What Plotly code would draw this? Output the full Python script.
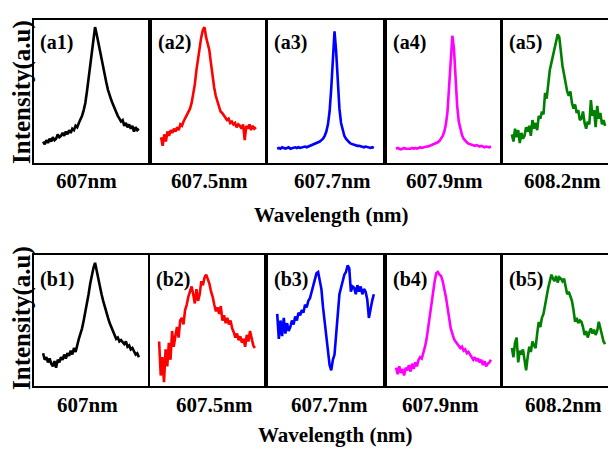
import plotly.graph_objects as go

# ---------------- data (relative intensity) ----------------
wavelength_labels = ["607nm", "607.5nm", "607.7nm", "607.9nm", "608.2nm"]
row_a_names = ["(a1)", "(a2)", "(a3)", "(a4)", "(a5)"]
row_b_names = ["(b1)", "(b2)", "(b3)", "(b4)", "(b5)"]
colors = ["#000000", "#ff0000", "#0000ff", "#ff00ff", "#008000"]

a1 = [15,13,16,14,17,15,18,16,17,20, 18,19,21,19,22,20,23,21,24,23,
      26,25,28,30,33,37,42,50,58,68, 77,86,95,90,84,79,72,66,61,56,
      51,47,44,41,38,35,33,31,29,30, 26,28,25,27,24,26,22,25,23,24]
a2 = [18,12,20,15,22,19,23,21,24,22, 25,23,27,26,29,
      31,33,35,38,42,
      48,55,65,73,81,88,
      93,95,88,84,79,70,60,53,47,43,39,36,35,33,
      32,30,31,28,29,27,28,25,27,26, 24,27,16,26,24,27,23,26,24,25]
a3 = [10,10.5,10,11,10.5,10,10.5,11,10,10.5, 10.5,11,10.5,11,10.5,11,11,11.5,11,11.5,
      12,12,12.5,13,13.5,14,
      15,16,17,19,22,27,36,52,75,92,78,55,38,28,23,19,17,15.5,14.5,13.5,
      13,12.5,12.5,12,12,11.5,11.5,11,11.5,11,11,10.5,11,10.5]
a4 = [10,10.5,10,9.5,10,10.5,10,10,9.5,10, 10.5,10,10.5,10,10.5,11,10.5,11,11,11.5,
      11.5,12,12,12.5,13,13.5,
      14.5,15.5,17,19,22,27,36,52,74,89,80,58,40,29,23,19.5,17,15.5,14.5,13.5,
      13,13,12.5,12,12.5,12,11.5,12,11.5,11,11.5,11,11,11.5]
a5 = [20,15,24,18,23,14,21,17,19,25, 22,26,19,30,24,28,23,33,31,36,
      34,49,45,58,65,70,75,78,85,90, 88,75,68,62,55,50,47,50,42,38,
      41,35,37,30,31,36,28,24,29,27, 44,33,37,25,40,31,35,27,30,26]

b1 = [25,20,22,18,21,17,15,19,14,20, 18,22,20,24,21,25,23,27,24,29,
      26,32,36,40,44,50,56,62,70,78, 85,90,94,88,80,76,70,65,60,56,
      52,48,45,42,39,36,37,34,35,33, 32,34,30,31,28,29,26,24,25,22]
b2 = [34,8,22,3,28,15,33,20,42,30, 38,45,37,50,52,47,58,62,68,72,
      76,70,63,74,65,70,80,77,83,85, 82,78,72,68,62,57,60,55,61,50,
      54,48,52,47,50,44,41,37,40,35, 38,33,36,30,39,34,42,36,31,29]
b3 = [55,36,50,38,52,40,48,42,45,50, 47,53,50,56,54,58,56,62,60,65,
      67,72,76,80, 86,87,80,74,60,49,
      38,27,16,12,20,24,42,55,70,75, 80,85,87,92,90,72,76,75,70,77,
      72,76,70,74,72,66,52,60,65,70]
b4 = [14,9,15,10,13,8,14,12,16,11, 17,13,18,15,20,22,21,25,30,36,
      45,55,63,72,80,86,87,85,84,80, 75,68,60,52,44,40,36,34,32,31,
      29,30,27,28,25,26,24,23,20,22, 19,21,18,20,16,19,15,17,18,20]
b5 = [29,22,33,37,18,27,24,28,20,12, 22,30,26,34,31,29,40,49,45,52,
      55,62,70,75,80,85,82,80,84,79, 83,82,80,82,76,70,72,68,65,58,
      49,52,48,50,49,45,39,42,37,41, 44,40,43,39,42,49,44,38,34,32]

row_a = [a1, a2, a3, a4, a5]
row_b = [b1, b2, b3, b4, b5]

# ---------------- layout helpers ----------------
OFF = 8                      # page body margin
W, H = 616 - OFF, 452 - OFF  # figure size so the page fits the window
FONT = "Liberation Serif, Times New Roman, serif"

def px_x(p):
    return (p - OFF) / W

def px_y(p):
    return 1 - (p - OFF) / H

row_a_boxes = [(34, 148), (152, 265), (268, 383), (387, 500), (503, 614)]
row_b_boxes = [(34, 148), (150, 264), (268, 383), (387, 500), (503, 614)]
row_a_y = (20, 163)
row_b_y = (255, 386)

row_a_label_x = [86, 209, 332, 444, 562]
row_b_label_x = [87, 214, 329, 440, 563]

fig = go.Figure()
layout = {}
annotations = []

panels = []
for i in range(5):
    panels.append((row_a[i], colors[i], row_a_boxes[i], row_a_y, row_a_names[i]))
for i in range(5):
    panels.append((row_b[i], colors[i], row_b_boxes[i], row_b_y, row_b_names[i]))

for k, (vals, color, (x0, x1), (y0, y1), name) in enumerate(panels):
    idx = k + 1
    xa = "x" if idx == 1 else f"x{idx}"
    ya = "y" if idx == 1 else f"y{idx}"
    n = len(vals)
    fig.add_trace(go.Scatter(
        x=list(range(n)), y=vals, mode="lines",
        line=dict(color=color, width=2.6),
        xaxis=xa, yaxis=ya, showlegend=False, hoverinfo="skip"))
    pad = (n - 1) * 0.08 / 0.84
    layout["xaxis" if idx == 1 else f"xaxis{idx}"] = dict(
        domain=[px_x(x0), px_x(x1)], anchor=ya, range=[-pad, n - 1 + pad],
        showticklabels=False, showgrid=False, zeroline=False, ticks="",
        showline=True, mirror=True, linecolor="black", linewidth=2, fixedrange=True)
    layout["yaxis" if idx == 1 else f"yaxis{idx}"] = dict(
        domain=[px_y(y1), px_y(y0)], anchor=xa, range=[0, 100],
        showticklabels=False, showgrid=False, zeroline=False, ticks="",
        showline=True, mirror=True, linecolor="black", linewidth=2, fixedrange=True)
    annotations.append(dict(
        text=name, xref="paper", yref="paper",
        x=px_x(x0 + 4), y=px_y(y0 + 23 if y0 < 100 else y0 + 24),
        xanchor="left", yanchor="middle", showarrow=False,
        font=dict(family=FONT, size=20, color="black", weight="bold")))

for i in range(5):
    annotations.append(dict(
        text=wavelength_labels[i], xref="paper", yref="paper",
        x=px_x(row_a_label_x[i]), y=px_y(181), xanchor="center", yanchor="middle",
        showarrow=False, font=dict(family=FONT, size=21, color="black", weight="bold")))
    annotations.append(dict(
        text=wavelength_labels[i], xref="paper", yref="paper",
        x=px_x(row_b_label_x[i]), y=px_y(405), xanchor="center", yanchor="middle",
        showarrow=False, font=dict(family=FONT, size=21, color="black", weight="bold")))

for (cx, cy) in [(331, 215), (335, 435)]:
    annotations.append(dict(
        text="Wavelength (nm)", xref="paper", yref="paper",
        x=px_x(cx), y=px_y(cy), xanchor="center", yanchor="middle",
        showarrow=False, font=dict(family=FONT, size=21, color="black", weight="bold")))

for cy in [92, 318]:
    annotations.append(dict(
        text="Intensity(a.u)", xref="paper", yref="paper",
        x=px_x(22), y=px_y(cy), xanchor="center", yanchor="middle", textangle=-90,
        showarrow=False, font=dict(family=FONT, size=25, color="black", weight="bold")))

fig.update_layout(
    width=W, height=H,
    margin=dict(l=0, r=0, t=0, b=0),
    paper_bgcolor="white", plot_bgcolor="white",
    annotations=annotations,
    **layout)

fig.write_html("out.html")
